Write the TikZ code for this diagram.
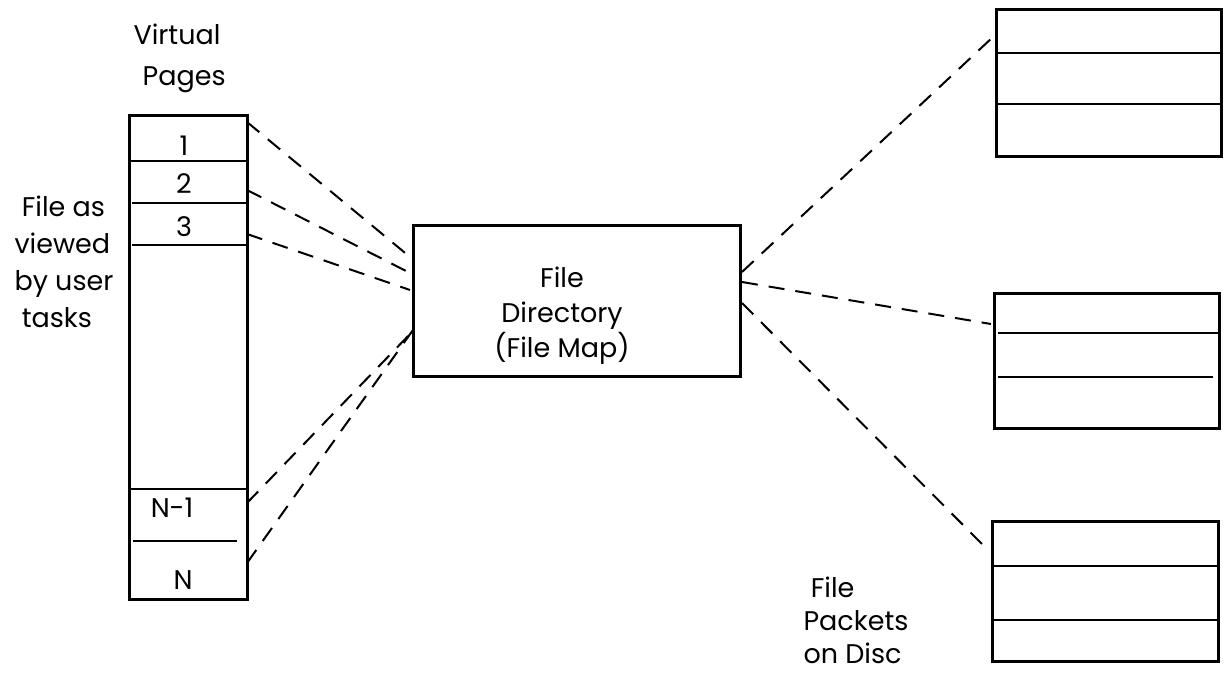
\documentclass[tikz,border=0pt]{standalone}
\usepackage{fontspec}
\setmainfont{Poppins}
\begin{document}
\begin{tikzpicture}[x=1pt,y=-1pt,
  frame/.style={draw=black,line width=2.6pt,inner sep=0pt},
  rule/.style={draw=black,line width=2.2pt},
  link/.style={draw=black,line width=2pt,dash pattern=on 16pt off 11pt},
  lbl/.style={font=\fontsize{27}{37}\selectfont,align=center,inner sep=0pt},
  num/.style={font=\fontsize{27}{30}\selectfont,inner sep=0pt}]
\useasboundingbox (0,0) rectangle (1224,675);
\fill[white] (0,0) rectangle (1224,675);

% page column
\node[frame,minimum width=118pt,minimum height=484pt,anchor=north west] (col) at (128,114) {};
\draw[rule] (128,161) -- (246,161);
\draw[rule] (132,203) -- (246,203);
\draw[rule] (132,245) -- (246,245);
\draw[rule] (128,489) -- (246,489);
\draw[rule] (133,541) -- (237,541);
\node[num] (n1) at (184,146) {1};
\node[num] (n2) at (184,184) {2};
\node[num] (n3) at (184,227) {3};
\node[num] (nm) at (172,508) {N-1};
\node[num] (nn) at (183,580) {N};

\node[lbl,font=\fontsize{27}{41}\selectfont] (vp) at (177,58) {Virtual\\\ \ Pages};
\node[lbl,align=left] (fv) at (64,262) {\ File as\\viewed\\by user\\\ tasks};

% directory
\node[frame,minimum width=327pt,minimum height=151pt,anchor=north west] (dir) at (412,224) {};
\node[lbl,font=\fontsize{27}{35}\selectfont] (dirt) at (562,316) {File\\Directory\\(File Map)};

% disc packets
\node[frame,minimum width=225pt,minimum height=147pt,anchor=north west] (pk1) at (995,8) {};
\draw[rule] (995,53) -- (1220,53);
\draw[rule] (995,104) -- (1220,104);
\node[frame,minimum width=225pt,minimum height=135pt,anchor=north west] (pk2) at (993,292) {};
\draw[rule] (998,333) -- (1218,333);
\draw[rule] (998,377) -- (1213,377);
\node[frame,minimum width=226pt,minimum height=140pt,anchor=north west] (pk3) at (991,520) {};
\draw[rule] (991,566) -- (1217,566);
\draw[rule] (991,620) -- (1217,620);
\node[lbl,align=left,font=\fontsize{27}{33}\selectfont] (fp) at (856,620) {\ File\\Packets\\on Disc};

% connector ends
\coordinate (c1) at (247,122);
\coordinate (c2) at (247,190);
\coordinate (c3) at (247,234);
\coordinate (cm) at (247,503);
\coordinate (cn) at (247,563);
\coordinate (d1) at (410,257);
\coordinate (d2) at (410,273);
\coordinate (d3) at (410,290);
\coordinate (d4) at (410,334);
\coordinate (d5) at (413,330);
\coordinate (e1) at (742,272);
\coordinate (e2) at (742,282);
\coordinate (e3) at (742,303);
\coordinate (f1) at (994,36);
\coordinate (f2) at (991,324);
\coordinate (f3) at (983,545);

\draw[link] (c1) -- (d1);
\draw[link] (c2) -- (d2);
\draw[link] (c3) -- (d3);
\draw[link] (cm) -- (d4);
\draw[link] (cn) -- (d5);
\draw[link] (e1) -- (f1);
\draw[link] (e2) -- (f2);
\draw[link] (e3) -- (f3);
\end{tikzpicture}
\end{document}
